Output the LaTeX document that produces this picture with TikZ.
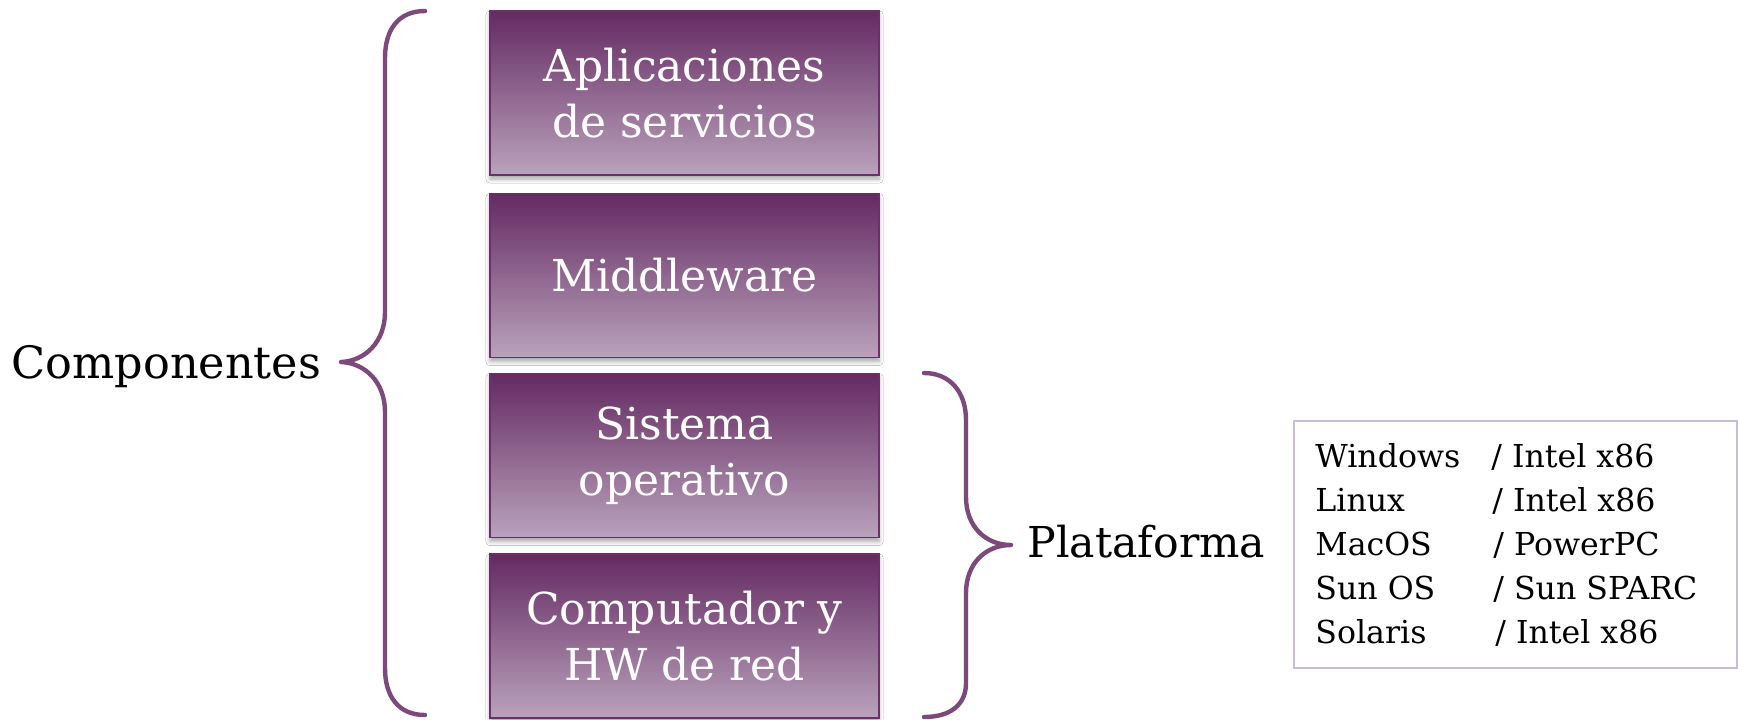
\documentclass[tikz,border=0pt]{standalone}
\usepackage{fontspec}
\setmainfont{DejaVu Serif}
\usetikzlibrary{shadows.blur}
\definecolor{plumedge}{HTML}{6A3068}
\definecolor{plumtop}{HTML}{642A62}
\definecolor{plumbot}{HTML}{BAA2BC}
\definecolor{bracecol}{HTML}{7B4A7A}
\definecolor{listframe}{HTML}{CBBDD3}

\begin{document}
\begin{tikzpicture}[x=0.5pt,y=-0.5pt,
  layer/.style={draw=plumedge, line width=0.8pt, top color=plumtop, bottom color=plumbot,
    minimum width=194.5pt, minimum height=82pt, inner sep=0pt, text=white, align=center,
    font=\fontsize{22}{28}\selectfont,
    blur shadow={shadow xshift=0pt, shadow yshift=-2pt, shadow opacity=35, shadow blur steps=6}},
  bracepath/.style={draw=bracecol, line width=2.2pt, line cap=round, line join=round},
  biglabel/.style={anchor=base west, inner sep=0pt, font=\fontsize{22.3}{26}\selectfont},
  rowtext/.style={anchor=base west, inner sep=0pt, font=\fontsize{15.8}{20}\selectfont}
]
\useasboundingbox (0,0) rectangle (1738,719);
\fill[white] (0,0) rectangle (1738,719);

% software / hardware stack
\node[layer] (apps) at (684.5,93)  {Aplicaciones\\de servicios};
\node[layer] (mw)   at (684.5,275.5) {Middleware};
\node[layer] (os)   at (684.5,455.5) {Sistema\\operativo};
\node[layer] (hw)   at (684.5,636) {Computador y\\HW de red};

% brace grouping the whole stack
\draw[bracepath] (425,11) .. controls (398,11) and (385,30) .. (385,58)
  -- (385,312) .. controls (385,342) and (365,361) .. (341,362)
  .. controls (365,363) and (385,382) .. (385,412)
  -- (385,668) .. controls (385,696) and (398,715) .. (425,715);
\node[biglabel] (comp) at (11,378) {Componentes};

% brace grouping the platform layers
\draw[bracepath] (924,373) .. controls (950,373) and (966,392) .. (966,420)
  -- (966,497) .. controls (966,527) and (986,545) .. (1011,545)
  .. controls (986,545) and (966,563) .. (966,593)
  -- (966,683) .. controls (966,705) and (950,717) .. (924,717);
\node[biglabel, font=\fontsize{21.3}{26}\selectfont] (plat) at (1027,557) {Plataforma};

% list of platforms
\node[draw=listframe, line width=0.8pt, minimum width=221.5pt, minimum height=123.5pt, inner sep=0pt]
  (plist) at (1515.5,544.5) {};
\node[rowtext] (os1) at (1315,467) {Windows};
\node[rowtext] (hw1) at (1491,467) {/ Intel x86};
\node[rowtext] (os2) at (1315,511) {Linux};
\node[rowtext] (hw2) at (1492,511) {/ Intel x86};
\node[rowtext] (os3) at (1315,555) {MacOS};
\node[rowtext] (hw3) at (1493,555) {/ PowerPC};
\node[rowtext] (os4) at (1315,599) {Sun OS};
\node[rowtext] (hw4) at (1493,599) {/ Sun SPARC};
\node[rowtext] (os5) at (1315,643) {Solaris};
\node[rowtext] (hw5) at (1495,643) {/ Intel x86};
\end{tikzpicture}
\end{document}
